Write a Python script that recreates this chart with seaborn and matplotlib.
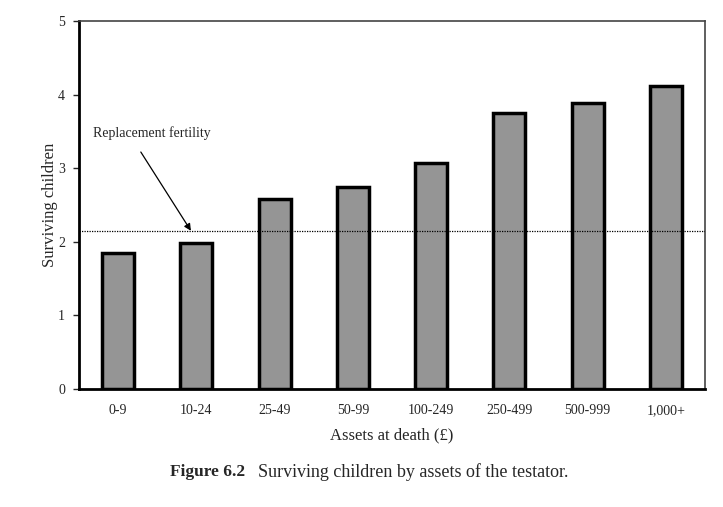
import matplotlib
matplotlib.use("Agg")
import matplotlib.pyplot as plt
import seaborn as sns
import pandas as pd

categories = ["0-9", "10-24", "25-49", "50-99", "100-249", "250-499", "500-999", "1,000+"]
children = [1.85, 1.98, 2.58, 2.74, 3.07, 3.75, 3.89, 4.12]
replacement = 2.15

sns.set_style("white")
plt.rcParams["font.family"] = ["Liberation Serif", "DejaVu Serif"]

df = pd.DataFrame({"assets": categories, "children": children})

fig = plt.figure(figsize=(7.23, 5.07), dpi=100)
ax = fig.add_axes([79/723, 1 - 389/507, (705 - 79)/723, (389 - 21)/507])

sns.barplot(data=df, x="assets", y="children", order=categories, color="#959595",
            edgecolor="black", linewidth=2.5, width=0.41, saturation=1, ax=ax)

ax.axhline(replacement, color="black", linestyle=(0, (1, 1)), linewidth=0.9, zorder=5)

ax.set_xlim(-0.5, 7.5)
ax.set_ylim(0, 5)
ax.set_yticks([0, 1, 2, 3, 4, 5])
ax.tick_params(axis="y", direction="out", length=4, width=1, labelsize=10, pad=6, left=True)
ax.tick_params(axis="x", length=0, labelsize=10, pad=11)

for side in ["left", "bottom"]:
    ax.spines[side].set_linewidth(2.0)
    ax.spines[side].set_color("black")
for side in ["top", "right"]:
    ax.spines[side].set_linewidth(1.2)
    ax.spines[side].set_color("#444444")

ax.set_xlabel("Assets at death (£)", fontsize=12, labelpad=7)
ax.set_ylabel("Surviving children", fontsize=12, labelpad=0)

ax.text(-0.32, 3.48, "Replacement fertility", fontsize=10, ha="left", va="center")
ax.annotate("", xy=(0.93, replacement), xytext=(0.29, 3.22),
            arrowprops=dict(arrowstyle="-|>", color="black", lw=0.9, mutation_scale=10,
                            shrinkA=0, shrinkB=0))

fig.text(170/723, 1 - 472/507, "Figure 6.2", fontsize=12.5, fontweight="bold",
         ha="left", va="center")
fig.text(258/723, 1 - 472/507, "Surviving children by assets of the testator.", fontsize=13,
         ha="left", va="center")

fig.savefig("out.png", dpi=100)
